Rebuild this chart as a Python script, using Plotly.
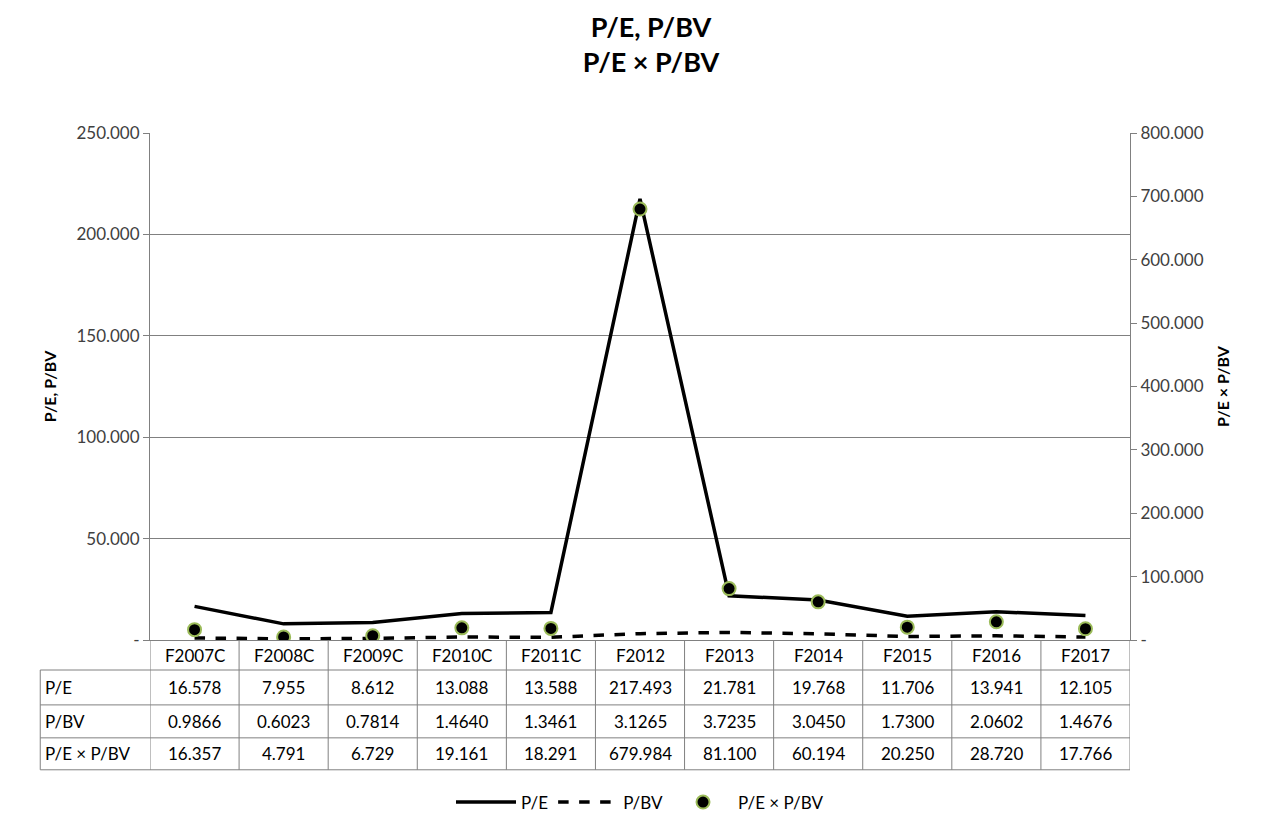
import plotly.graph_objects as go

cats = ["F2007C","F2008C","F2009C","F2010C","F2011C","F2012","F2013","F2014","F2015","F2016","F2017"]
pe = [16.578,7.955,8.612,13.088,13.588,217.493,21.781,19.768,11.706,13.941,12.105]
pbv = [0.9866,0.6023,0.7814,1.4640,1.3461,3.1265,3.7235,3.0450,1.7300,2.0602,1.4676]
prod = [16.357,4.791,6.729,19.161,18.291,679.984,81.100,60.194,20.250,28.720,17.766]
row_labels = ["P/E","P/BV","P/E × P/BV"]
row_text = [[f"{v:.3f}" for v in pe],[f"{v:.4f}" for v in pbv],[f"{v:.3f}" for v in prod]]
left_ticks = [0,50,100,150,200,250]
right_ticks = [0,100,200,300,400,500,600,700,800]

FONT = "Lato, DejaVu Sans, sans-serif"
xs = list(range(len(cats)))
fig = go.Figure()
fig.add_trace(go.Scatter(x=xs, y=pe, name="P/E", mode="lines", line=dict(color="black", width=3.5)))
fig.add_trace(go.Scatter(x=xs, y=pbv, name="P/BV", mode="lines", line=dict(color="black", width=3.5, dash="dash")))
fig.add_trace(go.Scatter(x=xs, y=prod, name="P/E × P/BV", mode="markers", yaxis="y2",
                         marker=dict(color="black", size=13, line=dict(color="#9BBB59", width=2))))

rows_y = [0, -0.0592, -0.128, -0.193, -0.256]
left_x = -0.112
shapes = []
for y in rows_y[1:]:
    shapes.append(dict(type="line", xref="paper", yref="paper", x0=left_x, x1=1, y0=y, y1=y, line=dict(color="#808080", width=1)))
shapes.append(dict(type="line", xref="paper", yref="paper", x0=left_x, x1=left_x, y0=rows_y[1], y1=rows_y[-1], line=dict(color="#808080", width=1)))
for i in range(len(cats)+1):
    shapes.append(dict(type="line", xref="x", yref="paper", x0=i-0.5, x1=i-0.5, y0=0, y1=rows_y[-1], line=dict(color="#808080", width=1)))

ann = []
for i, c in enumerate(cats):
    ann.append(dict(x=i, y=(rows_y[0]+rows_y[1])/2, xref="x", yref="paper", text=c, yanchor="middle",
                    showarrow=False, font=dict(size=17, color="black")))
for r, lab in enumerate(row_labels):
    yc = (rows_y[r+1]+rows_y[r+2])/2
    ann.append(dict(x=left_x+0.003, y=yc, xref="paper", yref="paper", text=lab, xanchor="left", yanchor="middle",
                    showarrow=False, font=dict(size=17, color="black")))
    for i, t in enumerate(row_text[r]):
        ann.append(dict(x=i, y=yc, xref="x", yref="paper", text=t, yanchor="middle", showarrow=False,
                        font=dict(size=17, color="black")))

fig.update_layout(
    width=1286, height=828, margin=dict(l=142, r=164, t=125, b=196),
    paper_bgcolor="white", plot_bgcolor="white", font=dict(family=FONT, color="#404040", size=17),
    title=dict(text="<b>P/E, P/BV<br>P/E × P/BV</b>", x=0.5, xanchor="center", y=0.965, yanchor="top",
               font=dict(size=27, color="black")),
    xaxis=dict(range=[-0.5, len(cats)-0.5], showticklabels=False, showgrid=False, zeroline=False,
               showline=True, linecolor="#808080"),
    yaxis=dict(range=[0, 250], tickvals=left_ticks, ticktext=["-" if v == 0 else f"{v:.3f}" for v in left_ticks],
               showgrid=True, gridcolor="#808080", showline=True, linecolor="#808080", ticks="outside", ticklen=6,
               tickcolor="#808080", zeroline=False,
               title=dict(text="<b>P/E, P/BV</b>", font=dict(size=16, color="black"))),
    yaxis2=dict(range=[0, 800], overlaying="y", side="right", tickvals=right_ticks,
                ticktext=["-" if v == 0 else f"{v:.3f}" for v in right_ticks], showgrid=False,
                showline=True, linecolor="#808080", ticks="outside", ticklen=6, tickcolor="#808080", zeroline=False,
                title=dict(text="<b>P/E × P/BV</b>", font=dict(size=16, color="black"))),
    legend=dict(orientation="h", x=0.5, xanchor="center", y=-0.285, yanchor="top", font=dict(size=17, color="black"),
                itemwidth=60),
    shapes=shapes, annotations=ann,
)
fig.write_html("out.html")
